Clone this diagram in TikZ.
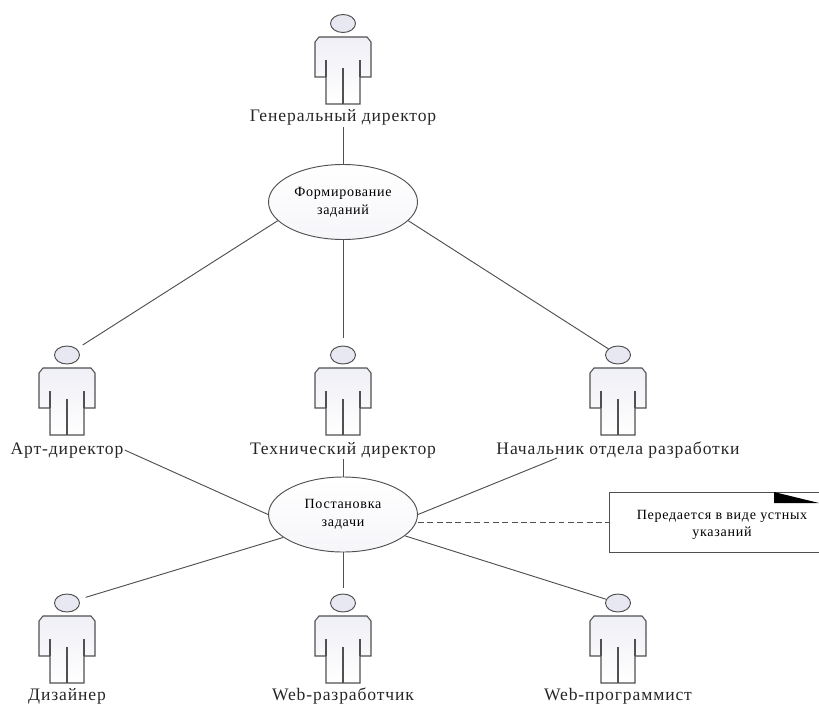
\documentclass[tikz,border=0pt]{standalone}
\usepackage{fontspec}
\setmainfont{Liberation Serif}
\newfontfamily\widefont[LetterSpace=5]{Liberation Serif}
\usetikzlibrary{shapes.geometric}

\definecolor{linegray}{HTML}{505050}
\definecolor{shade}{HTML}{E8E8F2}

\tikzset{
  usecase/.style={draw=linegray, line width=0.8pt, ellipse, minimum width=149*0.03cm, minimum height=75*0.03cm, inner sep=0pt, align=center, font=\widefont\fontsize{12}{15}\selectfont, top color=white, bottom color=shade!40},
  head/.style={draw=linegray, line width=0.8pt, ellipse, minimum width=25*0.03cm, minimum height=18*0.03cm, inner sep=0pt, fill=shade},
  rolename/.style={font=\widefont\fontsize{15}{17}\selectfont, inner sep=1pt, anchor=base, text=black!85},
  link/.style={draw=linegray, line width=0.8pt},
  actor/.pic={
    \draw[linegray, line width=0.9pt, top color=shade!70, bottom color=white] (-28,40) -- (-28,5) -- (-24,0) -- (24,0) -- (28,5) -- (28,40) -- (17,40) -- (17,67) -- (-17,67) -- (-17,40) -- cycle;
    \draw[linegray, line width=0.9pt] (-17,40) -- (-17,23);
    \draw[linegray, line width=0.9pt] (17,40) -- (17,23);
    \draw[linegray, line width=0.9pt] (0,67) -- (0,31);
  }
}

\begin{document}
\begin{tikzpicture}[x=0.03cm, y=-0.03cm]
  \useasboundingbox (0,0) rectangle (819,704);

  % Actors
  \foreach \px/\py in {343/37, 67/368, 343/368, 618/368, 67/616, 343/616, 618/616}
    \pic at (\px, \py) {actor};

  \node[head] (gen) at (343,23.5) {};
  \node[head] (art) at (67,355) {};
  \node[head] (tech) at (343,355) {};
  \node[head] (chief) at (618,355) {};
  \node[head] (des) at (67,603) {};
  \node[head] (webdev) at (343,603) {};
  \node[head] (webprog) at (618,603) {};

  % Role names
  \node[rolename] (genname) at (343,122) {Генеральный директор};
  \node[rolename] (artname) at (67,454) {Арт-директор};
  \node[rolename] (techname) at (343,454) {Технический директор};
  \node[rolename] (chiefname) at (618,454) {Начальник отдела разработки};
  \node[rolename] (desname) at (67,700) {Дизайнер};
  \node[rolename] (webdevname) at (343,700) {Web-разработчик};
  \node[rolename] (webprogname) at (618,700) {Web-программист};

  % Use cases
  \node[usecase] (forming) at (343,202) {Формирование\\заданий};
  \node[usecase] (setting) at (343,514.5) {Постановка\\задачи};

  % Note
  \node[draw=linegray, line width=0.8pt, minimum width=210*0.03cm, minimum height=60*0.03cm] (note) at (714,522) {};
  \node[align=center, font=\widefont\fontsize{12}{14}\selectfont, inner sep=0pt] (notetext) at (722,525) {Передается в виде устных\\указаний};
  \fill (774,492) -- (819,503) -- (774,503) -- cycle;

  % Connectors
  \coordinate (chiefout) at (557,458);
  \draw[link] (genname) -- (forming);
  \foreach \role/\ang/\gap in {art/196/7, tech/270/8, chief/-16/0}
    \draw[link, shorten >=\gap*0.03cm] (forming.\ang) -- (\role);
  \draw[link] (artname.east) -- (setting.west);
  \draw[link] (techname) -- (setting);
  \draw[link] (chiefout) -- (setting.east);
  \foreach \role/\ang/\gap in {des/201/7, webdev/270/6, webprog/-19/0}
    \draw[link, shorten >=\gap*0.03cm] (setting.\ang) -- (\role);
  \draw[link, dash pattern=on 5pt off 3pt] (setting.east |- note.west) -- (note.west);
\end{tikzpicture}
\end{document}
